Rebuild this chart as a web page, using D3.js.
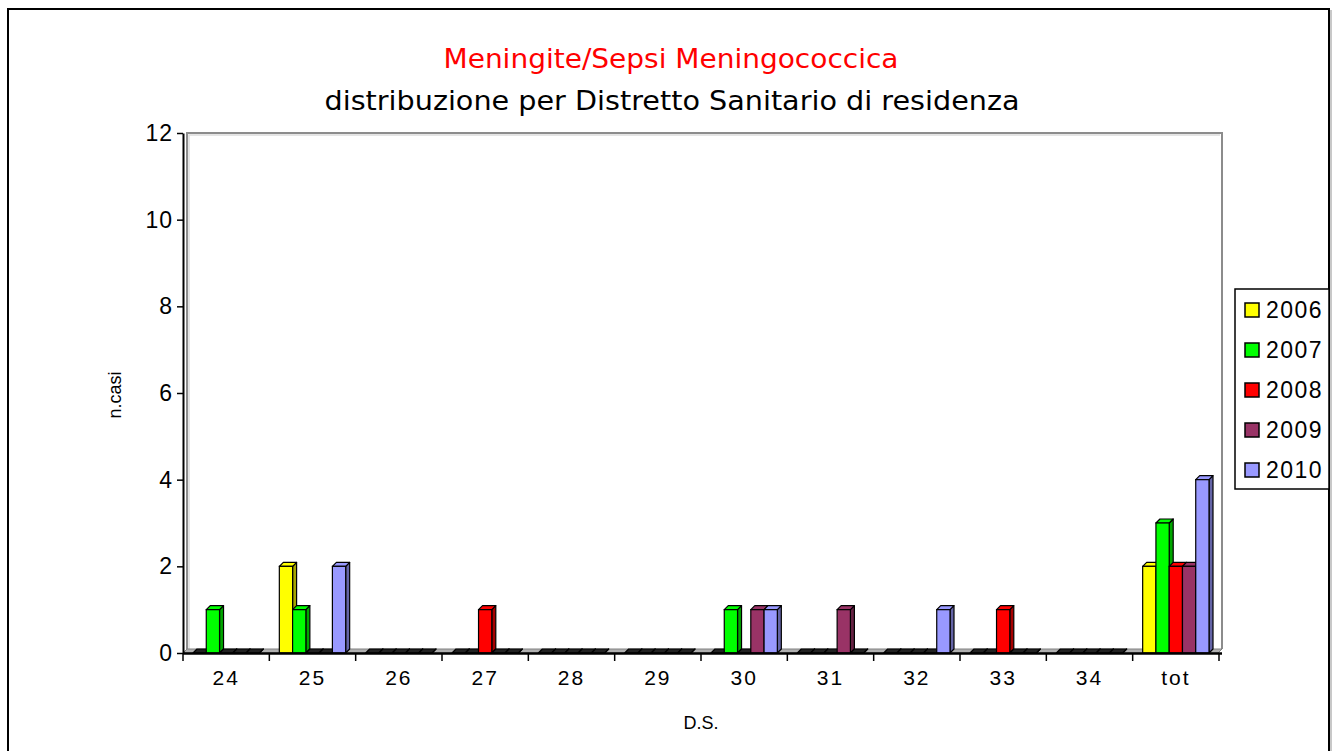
<!DOCTYPE html>
<html>
<head>
<meta charset="utf-8">
<script src="https://cdn.jsdelivr.net/npm/d3@7"></script>
<style>
  body { margin: 0; background: #fff; }
  svg { display: block; }
</style>
</head>
<body>
<svg id="chart" width="1337" height="751"></svg>
<script>
const width = 1337;
const height = 751;

// data
const districts = ["24", "25", "26", "27", "28", "29", "30", "31", "32", "33", "34", "tot"];
const years = ["2006", "2007", "2008", "2009", "2010"];
const cases2006 = [0, 2, 0, 0, 0, 0, 0, 0, 0, 0, 0, 2];
const cases2007 = [1, 1, 0, 0, 0, 0, 1, 0, 0, 0, 0, 3];
const cases2008 = [0, 0, 0, 1, 0, 0, 0, 0, 0, 1, 0, 2];
const cases2009 = [0, 0, 0, 0, 0, 0, 1, 1, 0, 0, 0, 2];
const cases2010 = [0, 2, 0, 0, 0, 0, 1, 0, 1, 0, 0, 4];
const yTicks = [0, 2, 4, 6, 8, 10, 12];

const series = [cases2006, cases2007, cases2008, cases2009, cases2010];
const colors = ["#ffff00", "#00ff00", "#ff0000", "#993366", "#9999ff"];

const sans = "'Liberation Sans', Arial, sans-serif";

const svg = d3.select("#chart");

// outer border
svg.append("rect")
    .attr("x", 8).attr("y", 9)
    .attr("width", 1321).attr("height", 760)
    .attr("fill", "none")
    .attr("stroke", "#000")
    .attr("stroke-width", 2);
svg.append("line")
    .attr("x1", 1331).attr("x2", 1331)
    .attr("y1", 10).attr("y2", 751)
    .attr("stroke", "#c8c8c8").attr("stroke-width", 2);

// scales
const x = d3.scaleBand()
    .domain(districts)
    .range([183, 1219]);

const xs = d3.scaleBand()
    .domain(years)
    .range([10, x.bandwidth() - 10]);

const y = d3.scaleLinear()
    .domain([0, 12])
    .range([653, 133]);

const dx = 4, dy = 4;

// back wall
svg.append("path")
    .attr("d", `M187,${y(0) - dy} L187,${y(12)} L1222,${y(12)} L1222,${y(0) - dy}`)
    .attr("fill", "none")
    .attr("stroke", "#8c8c8c")
    .attr("stroke-width", 2);
svg.append("path")
    .attr("d", `M189,${y(0) - dy} L189,${y(12) + 2} L1220,${y(12) + 2}`)
    .attr("fill", "none")
    .attr("stroke", "#dcdcdc")
    .attr("stroke-width", 1.5);

// floor
svg.append("path")
    .attr("d", `M183,${y(0)} L${183 + dx},${y(0) - dy} L1222,${y(0) - dy} L1218,${y(0)} Z`)
    .attr("fill", "#b0b0b0")
    .attr("stroke", "#808080")
    .attr("stroke-width", 1);

// bars
const barData = [];
districts.forEach((d, i) => {
    years.forEach((yr, j) => {
        barData.push({district: d, year: yr, value: series[j][i], color: colors[j]});
    });
});

const bars = svg.append("g")
    .selectAll("g")
    .data(barData)
    .join("g");

bars.each(function(d) {
    const g = d3.select(this);
    const x0 = x(d.district) + xs(d.year);
    const w = xs.bandwidth();
    const yT = y(d.value);
    const yB = y(0);
    const dark = d3.color(d.color).darker(1.2);

    // side
    g.append("path")
        .attr("d", `M${x0 + w},${yT} L${x0 + w + dx},${yT - dy} L${x0 + w + dx},${yB - dy} L${x0 + w},${yB} Z`)
        .attr("fill", d.value === 0 ? "#222" : dark)
        .attr("stroke", "#000")
        .attr("stroke-width", 1.2)
        .attr("stroke-linejoin", "round");
    // top
    g.append("path")
        .attr("d", `M${x0},${yT} L${x0 + dx},${yT - dy} L${x0 + w + dx},${yT - dy} L${x0 + w},${yT} Z`)
        .attr("fill", d.value === 0 ? "#222" : d.color)
        .attr("stroke", "#000")
        .attr("stroke-width", 1.2)
        .attr("stroke-linejoin", "round");
    // front
    g.append("rect")
        .attr("x", x0)
        .attr("y", yT)
        .attr("width", w)
        .attr("height", yB - yT)
        .attr("fill", d.color)
        .attr("stroke", "#000")
        .attr("stroke-width", 1.2);
});

// y axis
const yAxis = svg.append("g")
    .attr("transform", "translate(183,0)")
    .call(d3.axisLeft(y).tickValues(yTicks).tickSize(6).tickSizeOuter(0));
yAxis.attr("font-family", sans).attr("font-size", 23);
yAxis.select(".domain").attr("stroke-width", 2);
yAxis.selectAll(".tick line").attr("stroke-width", 1.5);
yAxis.selectAll("text")
    .attr("x", -10)
    .style("letter-spacing", "1px")
    .attr("fill", "#000");

// x axis
const xAxis = svg.append("g")
    .attr("transform", `translate(0,${y(0)})`)
    .call(d3.axisBottom(x).tickSize(0).tickSizeOuter(0));
xAxis.attr("font-family", sans).attr("font-size", 21);
xAxis.select(".domain").attr("stroke-width", 2.5).attr("d", "M183,0.5H1222");
xAxis.selectAll("text")
    .attr("y", 17)
    .style("letter-spacing", "2px")
    .attr("fill", "#000");

xAxis.selectAll(".bound")
    .data(districts.concat(["end"]))
    .join("line")
    .attr("class", "bound")
    .attr("x1", d => d === "end" ? x.range()[1] : x(d))
    .attr("x2", d => d === "end" ? x.range()[1] : x(d))
    .attr("y1", 0)
    .attr("y2", 8)
    .attr("stroke", "#000")
    .attr("stroke-width", 1.5);

// axis titles
svg.append("text")
    .attr("transform", "translate(121,395) rotate(-90)")
    .attr("text-anchor", "middle")
    .attr("font-family", sans)
    .attr("font-size", 18)
    .text("n.casi");

svg.append("text")
    .attr("x", 701)
    .attr("y", 729)
    .attr("text-anchor", "middle")
    .attr("font-family", sans)
    .attr("font-size", 18)
    .text("D.S.");

// titles
svg.append("text")
    .attr("x", 671)
    .attr("y", 68)
    .attr("text-anchor", "middle")
    .attr("textLength", 455)
    .attr("lengthAdjust", "spacingAndGlyphs")
    .attr("font-family", "'Comic Sans MS', 'DejaVu Sans', sans-serif")
    .attr("font-size", 26)
    .attr("fill", "#ff0000")
    .text("Meningite/Sepsi Meningococcica");

svg.append("text")
    .attr("x", 672)
    .attr("y", 110)
    .attr("text-anchor", "middle")
    .attr("textLength", 695)
    .attr("lengthAdjust", "spacingAndGlyphs")
    .attr("font-family", "'Comic Sans MS', 'DejaVu Sans', sans-serif")
    .attr("font-size", 26)
    .attr("fill", "#000")
    .text("distribuzione per Distretto Sanitario di residenza");

// legend
const legend = svg.append("g");
legend.append("rect")
    .attr("x", 1235).attr("y", 289)
    .attr("width", 94).attr("height", 200)
    .attr("fill", "#fff")
    .attr("stroke", "#000")
    .attr("stroke-width", 1.5);

const items = legend.selectAll(".item")
    .data(years)
    .join("g")
    .attr("class", "item")
    .attr("transform", (d, i) => `translate(1245,${310 + i * 40})`);

items.append("rect")
    .attr("x", 0).attr("y", -7)
    .attr("width", 14).attr("height", 14)
    .attr("fill", (d, i) => colors[i])
    .attr("stroke", "#000")
    .attr("stroke-width", 1.5);

items.append("text")
    .attr("x", 21)
    .attr("y", 8)
    .attr("font-family", sans)
    .attr("font-size", 23)
    .style("letter-spacing", "1.5px")
    .text(d => d);
</script>
</body>
</html>
